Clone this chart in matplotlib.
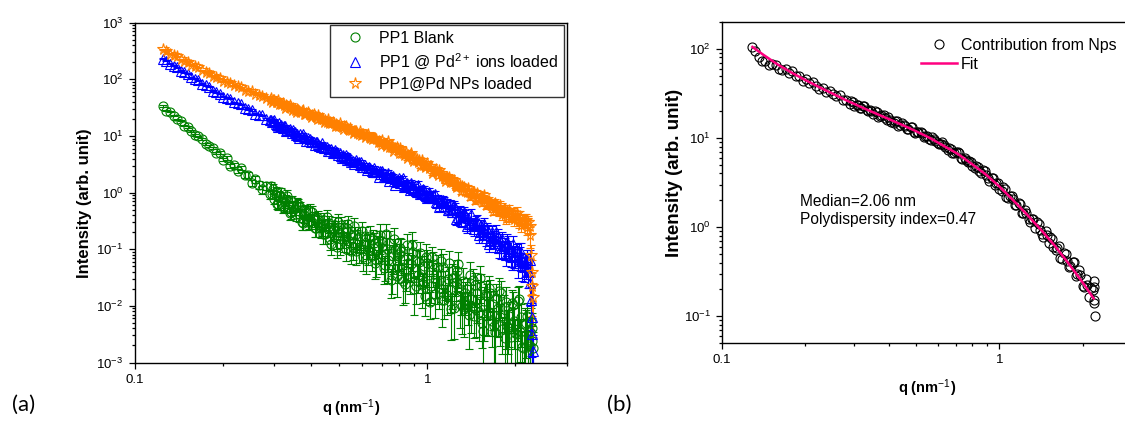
import matplotlib
matplotlib.use("Agg")
import matplotlib.pyplot as plt
import numpy as np
from matplotlib.lines import Line2D
from matplotlib.ticker import LogLocator, FixedLocator, FixedFormatter, NullFormatter

plt.rcParams['font.family'] = ['Liberation Sans', 'DejaVu Sans']
plt.rcParams['mathtext.fontset'] = 'custom'
plt.rcParams['mathtext.rm'] = 'Liberation Sans'
plt.rcParams['mathtext.it'] = 'Liberation Sans:italic'
plt.rcParams['mathtext.bf'] = 'Liberation Sans:bold'
plt.rcParams['axes.linewidth'] = 1.0

# ---------------------------------------------------------------- data
# scattering vector q (nm^-1), shared by the three SAXS curves
q = [0.1250, 0.1286, 0.1322, 0.1359, 0.1398, 0.1438, 0.1478, 0.1520, 0.1564, 0.1608,
     0.1654, 0.1701, 0.1749, 0.1798, 0.1849, 0.1902, 0.1956, 0.2011, 0.2068, 0.2127,
     0.2188, 0.2250, 0.2313, 0.2379, 0.2447, 0.2516, 0.2587, 0.2661, 0.2736, 0.2814,
     0.2894, 0.2976, 0.3060, 0.3147, 0.3237, 0.3329, 0.3423, 0.3520, 0.3620, 0.3723,
     0.3829, 0.3937, 0.4049, 0.4164, 0.4282, 0.4404, 0.4529, 0.4657, 0.4790, 0.4926,
     0.5065, 0.5209, 0.5357, 0.5509, 0.5665, 0.5826, 0.5992, 0.6162, 0.6337, 0.6517,
     0.6702, 0.6892, 0.7088, 0.7289, 0.7496, 0.7709, 0.7928, 0.8153, 0.8385, 0.8623,
     0.8868, 0.9120, 0.9379, 0.9645, 0.9919, 1.020, 1.049, 1.079, 1.110, 1.141,
     1.174, 1.207, 1.241, 1.277, 1.313, 1.350, 1.389, 1.428, 1.469, 1.510,
     1.553, 1.597, 1.643, 1.689, 1.737, 1.787, 1.837, 1.890, 1.943, 1.998,
     2.055, 2.113, 2.173, 2.235, 2.250, 2.262, 2.274, 2.286, 2.298]

# PP1 blank
blank = [33.9, 27.9, 26.8, 22.9, 19.7, 18.7, 15.2, 14.3, 12.3, 10.4,
         9.84, 8.79, 7.35, 6.64, 6.14, 5.01, 5.02, 3.82, 4.12, 2.94,
         3.10, 2.42, 2.73, 2.04, 2.05, 1.50, 1.73, 1.38, 1.14, 1.33,
         0.959, 1.17, 0.640, 0.857, 0.575, 0.887, 0.452, 0.540, 0.621, 0.305,
         0.473, 0.321, 0.455, 0.234, 0.295, 0.187, 0.366, 0.149, 0.234, 0.111,
         0.264, 0.147, 0.278, 0.0933, 0.176, 0.100, 0.208, 0.0667, 0.126, 0.148,
         0.0644, 0.181, 0.0475, 0.0991, 0.0292, 0.153, 0.0506, 0.0942, 0.0247, 0.0578,
         0.120, 0.0224, 0.0589, 0.0245, 0.0723, 0.0119, 0.0556, 0.0260, 0.0610, 0.0127,
         0.0299, 0.00881, 0.0327, 0.0543, 0.0101, 0.0166, 0.00689, 0.0284, 0.00933, 0.0307,
         0.00357, 0.0148, 0.0172, 0.00449, 0.00929, 0.0171, 0.00276, 0.00500, 0.0114, 0.00327,
         0.0133, 0.00191, 0.00489, 0.00198, 0.0035, 0.0052, 0.0024, 0.0041, 0.0018]
blank_rel_err = [0.03, 0.03, 0.03, 0.03, 0.03, 0.03, 0.03, 0.03, 0.03, 0.03,
                 0.03, 0.03, 0.04, 0.04, 0.05, 0.05, 0.06, 0.06, 0.07, 0.07,
                 0.08, 0.09, 0.10, 0.11, 0.12, 0.13, 0.14, 0.15, 0.16, 0.17,
                 0.18, 0.19, 0.20, 0.21, 0.22, 0.23, 0.24, 0.25, 0.26, 0.27,
                 0.28, 0.29, 0.30, 0.31, 0.32, 0.33, 0.34, 0.35, 0.36, 0.37,
                 0.38, 0.39, 0.40, 0.41, 0.42, 0.43, 0.44, 0.45, 0.46, 0.47,
                 0.50, 0.55, 0.48, 0.60, 0.52, 0.58, 0.50, 0.62, 0.55, 0.50,
                 0.65, 0.52, 0.60, 0.55, 0.70, 0.50, 0.62, 0.58, 0.66, 0.54,
                 0.60, 0.72, 0.55, 0.62, 0.68, 0.58, 0.75, 0.60, 0.70, 0.64,
                 0.80, 0.62, 0.66, 0.78, 0.70, 0.64, 0.85, 0.72, 0.68, 0.80,
                 0.70, 0.88, 0.75, 0.90, 0.80, 0.75, 0.85, 0.80, 0.90]

# PP1 loaded with Pd2+ ions
ions = [229, 214, 187, 175, 164, 143, 134, 126, 109, 102,
        96.2, 83.6, 78.2, 73.5, 63.5, 59.7, 56.2, 49.3, 47.0, 45.2,
        39.4, 37.6, 36.1, 31.2, 30.0, 28.8, 24.9, 23.9, 23.1, 19.9,
        19.1, 18.5, 15.8, 15.2, 14.8, 12.6, 12.2, 11.8, 10.1, 9.84,
        9.62, 8.18, 8.00, 7.85, 6.62, 6.50, 6.43, 5.40, 5.30, 5.24,
        4.36, 4.31, 4.29, 3.54, 3.50, 3.50, 2.84, 2.84, 2.84, 2.33,
        2.34, 2.39, 1.91, 1.95, 1.98, 1.58, 1.61, 1.66, 1.30, 1.34,
        1.38, 1.06, 1.11, 1.15, 0.881, 0.891, 0.912, 0.661, 0.676, 0.700,
        0.495, 0.513, 0.537, 0.372, 0.389, 0.408, 0.274, 0.287, 0.305, 0.200,
        0.212, 0.228, 0.146, 0.157, 0.171, 0.105, 0.113, 0.124, 0.0728, 0.0798,
        0.0895, 0.0504, 0.0565, 0.0634, 0.0251, 0.0126, 0.0063, 0.00316, 0.00158]
ions_rel_err = [0.02, 0.02, 0.02, 0.02, 0.02, 0.02, 0.02, 0.02, 0.02, 0.02,
                0.02, 0.02, 0.02, 0.02, 0.02, 0.02, 0.02, 0.02, 0.02, 0.02,
                0.03, 0.03, 0.03, 0.03, 0.03, 0.03, 0.03, 0.03, 0.03, 0.03,
                0.04, 0.04, 0.04, 0.04, 0.04, 0.04, 0.04, 0.04, 0.04, 0.04,
                0.05, 0.05, 0.05, 0.05, 0.05, 0.06, 0.06, 0.06, 0.06, 0.06,
                0.07, 0.07, 0.07, 0.07, 0.07, 0.08, 0.08, 0.08, 0.08, 0.08,
                0.09, 0.09, 0.09, 0.10, 0.10, 0.10, 0.11, 0.11, 0.11, 0.12,
                0.12, 0.13, 0.13, 0.14, 0.14, 0.15, 0.16, 0.16, 0.17, 0.18,
                0.18, 0.19, 0.20, 0.21, 0.22, 0.23, 0.24, 0.25, 0.26, 0.27,
                0.28, 0.29, 0.30, 0.32, 0.33, 0.35, 0.37, 0.38, 0.40, 0.42,
                0.44, 0.46, 0.48, 0.50, 0.60, 0.70, 0.80, 0.90, 0.95]

# PP1 loaded with Pd nanoparticles
nps = [338, 321, 284, 270, 255, 228, 215, 204, 181, 172,
       164, 146, 137, 130, 115, 109, 104, 93.3, 90.2, 86.9,
       78.0, 75.7, 73.0, 65.8, 63.5, 61.7, 55.2, 53.3, 51.5, 47.4,
       43.6, 43.1, 39.8, 38.6, 34.7, 33.5, 32.3, 29.1, 28.2, 27.5,
       24.7, 24.1, 23.4, 21.2, 20.5, 20.1, 17.9, 17.5, 17.1, 15.4,
       14.9, 14.7, 13.1, 12.7, 12.4, 11.0, 10.8, 10.6, 9.48, 9.12,
       8.83, 7.71, 7.46, 7.28, 6.31, 6.11, 5.96, 5.06, 4.86, 4.70,
       3.97, 3.82, 3.69, 3.10, 3.00, 2.91, 2.41, 2.30, 2.22, 1.83,
       1.75, 1.69, 1.37, 1.32, 1.29, 1.05, 1.02, 1.01, 0.811, 0.802,
       0.800, 0.635, 0.627, 0.627, 0.497, 0.491, 0.501, 0.393, 0.396, 0.405,
       0.317, 0.320, 0.327, 0.259, 0.178, 0.079, 0.040, 0.0224, 0.0141]
nps_rel_err = [0.02, 0.02, 0.02, 0.02, 0.02, 0.02, 0.02, 0.02, 0.02, 0.02,
               0.02, 0.02, 0.02, 0.02, 0.02, 0.02, 0.02, 0.02, 0.02, 0.02,
               0.02, 0.02, 0.02, 0.02, 0.02, 0.02, 0.02, 0.02, 0.02, 0.02,
               0.02, 0.02, 0.02, 0.02, 0.02, 0.02, 0.02, 0.02, 0.02, 0.02,
               0.03, 0.03, 0.03, 0.03, 0.03, 0.03, 0.03, 0.03, 0.03, 0.03,
               0.03, 0.03, 0.03, 0.03, 0.03, 0.03, 0.03, 0.03, 0.03, 0.03,
               0.04, 0.04, 0.04, 0.05, 0.05, 0.05, 0.05, 0.06, 0.06, 0.06,
               0.06, 0.07, 0.07, 0.07, 0.08, 0.08, 0.08, 0.09, 0.09, 0.10,
               0.10, 0.11, 0.11, 0.12, 0.12, 0.13, 0.13, 0.14, 0.14, 0.15,
               0.15, 0.16, 0.17, 0.18, 0.19, 0.20, 0.21, 0.22, 0.23, 0.24,
               0.25, 0.26, 0.27, 0.28, 0.40, 0.50, 0.60, 0.70, 0.80]

# finer sampling above q = 0.29 nm^-1 (two extra frames per interval)
q_fill = [0.2921, 0.2949, 0.3004, 0.3032, 0.3089, 0.3118, 0.3177, 0.3206, 0.3267, 0.3298,
          0.3360, 0.3392, 0.3455, 0.3488, 0.3553, 0.3586, 0.3654, 0.3688, 0.3758, 0.3793,
          0.3865, 0.3901, 0.3974, 0.4011, 0.4087, 0.4125, 0.4203, 0.4242, 0.4322, 0.4363,
          0.4445, 0.4487, 0.4571, 0.4614, 0.4701, 0.4745, 0.4835, 0.4880, 0.4972, 0.5019,
          0.5112, 0.5160, 0.5258, 0.5307, 0.5407, 0.5458, 0.5561, 0.5613, 0.5718, 0.5772,
          0.5881, 0.5936, 0.6048, 0.6105, 0.6220, 0.6278, 0.6396, 0.6456, 0.6578, 0.6640,
          0.6765, 0.6828, 0.6957, 0.7022, 0.7154, 0.7222, 0.7357, 0.7426, 0.7566, 0.7637,
          0.7781, 0.7854, 0.8002, 0.8077, 0.8229, 0.8307, 0.8464, 0.8543, 0.8704, 0.8785,
          0.8951, 0.9035, 0.9206, 0.9292, 0.9467, 0.9556, 0.9735, 0.9827, 1.001, 1.011,
          1.030, 1.039, 1.059, 1.069, 1.089, 1.099, 1.120, 1.131, 1.152, 1.163,
          1.185, 1.196, 1.218, 1.230, 1.253, 1.264, 1.289, 1.301, 1.325, 1.338,
          1.363, 1.375, 1.402, 1.415, 1.441, 1.455, 1.483, 1.497, 1.524, 1.538,
          1.568, 1.582, 1.612, 1.627, 1.658, 1.674, 1.705, 1.721, 1.753, 1.770,
          1.804, 1.821, 1.854, 1.872, 1.908, 1.926, 1.961, 1.980, 2.017, 2.036,
          2.074, 2.094, 2.133, 2.153, 2.193, 2.214]
blank_fill = [1.31, 0.929, 0.785, 1.04, 0.619, 0.875, 1.01, 0.561, 0.693, 0.745,
              0.568, 0.431, 0.701, 0.570, 0.421, 0.640, 0.412, 0.546, 0.296, 0.406,
              0.454, 0.301, 0.478, 0.317, 0.355, 0.236, 0.336, 0.361, 0.233, 0.251,
              0.322, 0.186, 0.251, 0.290, 0.123, 0.215, 0.270, 0.158, 0.304, 0.126,
              0.171, 0.212, 0.102, 0.238, 0.137, 0.179, 0.109, 0.254, 0.0918, 0.151,
              0.173, 0.101, 0.0733, 0.171, 0.123, 0.0962, 0.174, 0.0757, 0.129, 0.0560,
              0.113, 0.139, 0.0809, 0.137, 0.0521, 0.185, 0.0640, 0.130, 0.0344, 0.0767,
              0.0966, 0.0342, 0.0820, 0.106, 0.0278, 0.0681, 0.0410, 0.121, 0.0318, 0.0538,
              0.0893, 0.0200, 0.0632, 0.0355, 0.0851, 0.0229, 0.0500, 0.0148, 0.0561, 0.0346,
              0.0226, 0.0733, 0.0160, 0.0359, 0.0495, 0.0211, 0.0127, 0.0495, 0.0272, 0.0153,
              0.0582, 0.0188, 0.0313, 0.00923, 0.0266, 0.0412, 0.0108, 0.0184, 0.0278, 0.00895,
              0.0195, 0.0109, 0.0344, 0.0133, 0.00665, 0.0235, 0.0169, 0.00789, 0.0227, 0.00506,
              0.0121, 0.0155, 0.00773, 0.0207, 0.00542, 0.0110, 0.00348, 0.0135, 0.0184, 0.00646,
              0.00388, 0.00944, 0.0117, 0.00450, 0.00668, 0.00282, 0.0105, 0.00536, 0.00317, 0.0122,
              0.00346, 0.00638, 0.00181, 0.00482, 0.00653, 0.00209]
ions_fill = [19.1, 17.3, 19.1, 16.6, 14.6, 16.7, 15.4, 13.7, 15.0, 12.1,
             12.9, 13.1, 11.5, 12.7, 10.3, 11.0, 9.18, 10.7, 10.7, 9.18,
             8.28, 9.08, 8.97, 7.82, 7.91, 6.97, 7.91, 7.13, 6.43, 7.46,
             6.14, 6.50, 5.35, 5.93, 5.94, 5.06, 5.68, 5.00, 4.61, 5.00,
             4.11, 4.56, 4.67, 3.79, 3.97, 4.02, 3.58, 3.23, 3.71, 3.42,
             3.01, 3.42, 2.88, 3.12, 2.48, 2.72, 2.75, 2.38, 2.71, 2.34,
             2.44, 1.91, 2.34, 2.44, 1.87, 1.95, 2.25, 1.61, 1.86, 1.94,
             1.39, 1.68, 1.79, 1.45, 1.79, 1.28, 1.39, 1.48, 1.11, 1.48,
             1.18, 1.28, 1.04, 1.39, 0.940, 1.11, 1.13, 0.918, 0.787, 1.04,
             0.883, 0.787, 0.931, 0.675, 0.782, 0.566, 0.698, 0.735, 0.586, 0.643,
             0.492, 0.637, 0.462, 0.601, 0.338, 0.456, 0.480, 0.310, 0.420, 0.454,
             0.253, 0.354, 0.275, 0.414, 0.231, 0.279, 0.325, 0.175, 0.263, 0.204,
             0.275, 0.159, 0.207, 0.124, 0.201, 0.162, 0.131, 0.205, 0.105, 0.142,
             0.152, 0.105, 0.0807, 0.135, 0.100, 0.0774, 0.124, 0.0771, 0.0889, 0.0531,
             0.0764, 0.0885, 0.0489, 0.0587, 0.0653, 0.0405]
nps_fill = [46.8, 39.6, 42.3, 39.4, 43.0, 36.4, 37.3, 38.9, 31.8, 35.6,
            32.2, 35.0, 29.1, 31.3, 26.4, 30.3, 27.7, 26.2, 28.9, 24.1,
            25.5, 26.1, 23.0, 21.4, 24.2, 22.3, 20.2, 23.2, 19.7, 20.7,
            17.4, 19.4, 19.7, 16.7, 17.2, 17.8, 15.2, 16.4, 14.8, 16.7,
            14.5, 13.3, 14.8, 14.1, 12.5, 14.0, 11.4, 12.4, 12.4, 11.3,
            12.2, 10.4, 10.9, 9.44, 10.6, 10.9, 9.33, 8.67, 9.20, 9.29,
            7.82, 8.30, 6.85, 8.55, 7.29, 6.59, 8.02, 6.37, 6.81, 5.41,
            6.17, 6.44, 5.05, 6.17, 5.05, 4.69, 5.13, 4.06, 4.58, 4.92,
            3.60, 3.99, 3.96, 3.51, 2.96, 3.74, 3.27, 2.84, 3.32, 2.71,
            2.96, 2.21, 2.45, 2.57, 2.03, 2.50, 1.97, 2.07, 1.63, 1.92,
            1.90, 1.54, 1.52, 1.70, 1.26, 1.41, 1.39, 1.08, 1.19, 1.26,
            1.03, 1.22, 0.867, 0.970, 1.01, 0.743, 0.993, 0.785, 0.836, 0.676,
            0.904, 0.594, 0.693, 0.723, 0.556, 0.482, 0.646, 0.560, 0.483, 0.605,
            0.418, 0.513, 0.355, 0.467, 0.489, 0.396, 0.435, 0.337, 0.444, 0.336,
            0.385, 0.272, 0.320, 0.334, 0.248, 0.304]

# nanoparticle contribution (panel b) and its log-normal fit
q_np = q[1:103] + [2.19, 2.20, 2.20, 2.21]
np_contrib = [106, 95.1, 81.7, 73.1, 73.8, 66.5, 67.3, 66.5, 58.7, 58.3,
              59.2, 53.6, 55.8, 49.7, 49.7, 44.1, 45.6, 41.2, 42.3, 38.7,
              35.8, 36.4, 32.6, 33.8, 31.3, 29.3, 30.1, 26.6, 26.9, 24.2,
              25.2, 23.4, 21.8, 22.8, 20.4, 20.6, 18.5, 19.3, 17.5, 18.1,
              16.0, 16.0, 14.7, 15.3, 13.9, 14.0, 12.6, 13.2, 11.8, 11.7,
              11.6, 10.3, 10.6, 9.51, 9.79, 8.71, 8.49, 8.36, 7.35, 7.46,
              6.71, 6.92, 5.93, 5.97, 5.37, 5.38, 4.55, 4.68, 4.05, 4.21,
              3.56, 3.56, 2.94, 3.09, 2.56, 2.64, 2.10, 2.25, 1.77, 1.85,
              1.44, 1.56, 1.23, 1.24, 0.977, 1.08, 0.836, 0.900, 0.670, 0.740,
              0.555, 0.611, 0.435, 0.501, 0.356, 0.408, 0.286, 0.328, 0.216, 0.264,
              0.165, 0.196, 0.25, 0.215, 0.14, 0.10]
q_np_fill = q_fill[::2]
np_contrib_fill = [26.1, 22.8, 23.5, 21.8, 22.8, 19.9, 20.0, 20.0, 17.3, 18.2,
                   16.8, 17.3, 15.1, 15.5, 13.6, 14.6, 13.5, 12.6, 13.3, 11.5,
                   11.7, 11.5, 10.4, 9.62, 10.2, 9.27, 8.47, 8.95, 7.83, 7.76,
                   6.75, 6.98, 6.84, 5.83, 5.71, 5.56, 4.80, 4.79, 4.31, 4.42,
                   3.85, 3.30, 3.52, 3.16, 2.70, 2.80, 2.18, 2.21, 2.08, 1.77,
                   1.82, 1.44, 1.43, 1.15, 1.22, 1.15, 0.925, 0.774, 0.824, 0.780,
                   0.597, 0.582, 0.451, 0.514, 0.411, 0.363, 0.410, 0.294, 0.293, 0.211,
                   0.222, 0.209, 0.152]
fit_q = [0.129, 0.141, 0.158, 0.178, 0.200, 0.224, 0.251, 0.282, 0.316, 0.355,
         0.398, 0.447, 0.501, 0.562, 0.631, 0.708, 0.794, 0.891, 1.000, 1.122,
         1.259, 1.413, 1.585, 1.778, 1.995, 2.188]
fit_I = [105, 86.1, 67.6, 54.3, 44.7, 37.3, 31.4, 26.3, 22.4, 19.1,
         16.4, 14.0, 11.9, 10.0, 8.15, 6.64, 5.14, 3.93, 2.86, 2.00,
         1.38, 0.933, 0.617, 0.389, 0.240, 0.158]

GREEN, BLUE, ORANGE, PINK = '#008000', '#0000ff', '#ff8000', '#ff0080'

# ---------------------------------------------------------------- figure
W, H = 1125, 424
fig = plt.figure(figsize=(W / 100, H / 100), dpi=100)
ax_a = fig.add_axes([134.5 / W, 1 - 362.5 / H, 432.5 / W, 339.8 / H])
ax_b = fig.add_axes([721.7 / W, 1 - 343 / H, 410 / W, 321 / H])


def style_log_axes(ax):
    ax.set_xscale('log')
    ax.set_yscale('log')
    ax.xaxis.set_major_locator(FixedLocator([0.1, 1]))
    ax.xaxis.set_major_formatter(FixedFormatter(['0.1', '1']))
    ax.xaxis.set_minor_locator(LogLocator(base=10, subs=np.arange(2, 10)))
    ax.xaxis.set_minor_formatter(NullFormatter())
    ax.yaxis.set_major_locator(LogLocator(base=10, numticks=20))
    ax.yaxis.set_minor_locator(LogLocator(base=10, subs=np.arange(2, 10), numticks=20))
    ax.yaxis.set_minor_formatter(NullFormatter())
    ax.tick_params(which='both', direction='out', top=False, right=False,
                   width=0.9, labelsize=9.5)
    ax.tick_params(which='major', length=4.5)
    ax.tick_params(which='minor', length=2.5)


def draw_series(ax, x, y, rel, color, marker, ms):
    y = np.asarray(y)
    err = y * np.asarray(rel)
    ax.errorbar(x, y, yerr=err, fmt=marker, mfc='none', mec=color, mew=0.8,
                ms=ms, ecolor=color, elinewidth=0.8, capsize=3, capthick=0.8)


def with_fill(main, fill, rel):
    # coarse + fine frames; fine frames take the error of their interval start
    x = list(q) + list(q_fill)
    y = list(main) + list(fill)
    r = list(rel) + list(np.repeat(rel[30:103], 2))
    return x, y, r


# ---- panel (a)
style_log_axes(ax_a)
draw_series(ax_a, *with_fill(blank, blank_fill, blank_rel_err), GREEN, 'o', 6.5)
draw_series(ax_a, *with_fill(ions, ions_fill, ions_rel_err), BLUE, '^', 7)
draw_series(ax_a, *with_fill(nps, nps_fill, nps_rel_err), ORANGE, '*', 8.5)
ax_a.set_xlim(0.1, 3.0)
ax_a.set_ylim(1e-3, 1e3)
ax_a.set_xlabel('q (nm$^{-1}$)', fontweight='bold', fontsize=10.5)
ax_a.set_ylabel('Intensity (arb. unit)', fontweight='bold', fontsize=12)
ax_a.xaxis.label.set_va('center')
ax_a.yaxis.label.set_va('center')
ax_a.xaxis.set_label_coords(0.5, -0.134)
ax_a.yaxis.set_label_coords(-0.1145, 0.469)

handles_a = [
    Line2D([], [], ls='none', marker='o', mfc='none', mec=GREEN, mew=0.8, ms=6.5),
    Line2D([], [], ls='none', marker='^', mfc='none', mec=BLUE, mew=0.8, ms=7),
    Line2D([], [], ls='none', marker='*', mfc='none', mec=ORANGE, mew=0.8, ms=8.5),
]
labels_a = ['PP1 Blank', 'PP1 @ Pd$^{2+}$ ions loaded', 'PP1@Pd NPs loaded']
leg_a = ax_a.legend(handles_a, labels_a, loc='upper right',
                    bbox_to_anchor=(0.993, 0.993), borderaxespad=0,
                    fontsize=11.5, frameon=True, fancybox=False,
                    handlelength=2.4, handletextpad=0.3, borderpad=0.35,
                    labelspacing=0.35)
leg_a.get_frame().set_edgecolor('black')
leg_a.get_frame().set_linewidth(1.0)

# ---- panel (b)
style_log_axes(ax_b)
ax_b.plot(list(q_np) + list(q_np_fill), np_contrib + np_contrib_fill, ls='none',
          marker='o', mfc='none', mec='black', mew=0.8, ms=6.5,
          label='Contribution from Nps', zorder=2)
ax_b.plot(fit_q, fit_I, color=PINK, lw=1.8, label='Fit', zorder=3)
ax_b.set_xlim(0.1, 3.0)
ax_b.set_ylim(0.05, 200)
ax_b.set_xlabel('q (nm$^{-1}$)', fontweight='bold', fontsize=10.5)
ax_b.set_ylabel('Intensity (arb. unit)', fontweight='bold', fontsize=13.5)
ax_b.xaxis.label.set_va('center')
ax_b.yaxis.label.set_va('center')
ax_b.xaxis.set_label_coords(0.5, -0.140)
ax_b.yaxis.set_label_coords(-0.114, 0.53)
ax_b.legend(loc='upper left', bbox_to_anchor=(0.486, 0.95), borderaxespad=0,
            borderpad=0, frameon=False, fontsize=11.5, handlelength=2.25,
            handletextpad=0.25, labelspacing=0.25)
ax_b.text(0.19, 0.414, 'Median=2.06 nm\nPolydispersity index=0.47',
          transform=ax_b.transAxes, fontsize=11.2, va='center', ha='left',
          linespacing=1.25)

# panel tags
fig.text(24 / W, 1 - 405 / H, '(a)', fontsize=16, family=['Lato', 'DejaVu Sans'],
         ha='center', va='center')
fig.text(619 / W, 1 - 405 / H, '(b)', fontsize=16, family=['Lato', 'DejaVu Sans'],
         ha='center', va='center')

fig.savefig('out.png', dpi=100)
